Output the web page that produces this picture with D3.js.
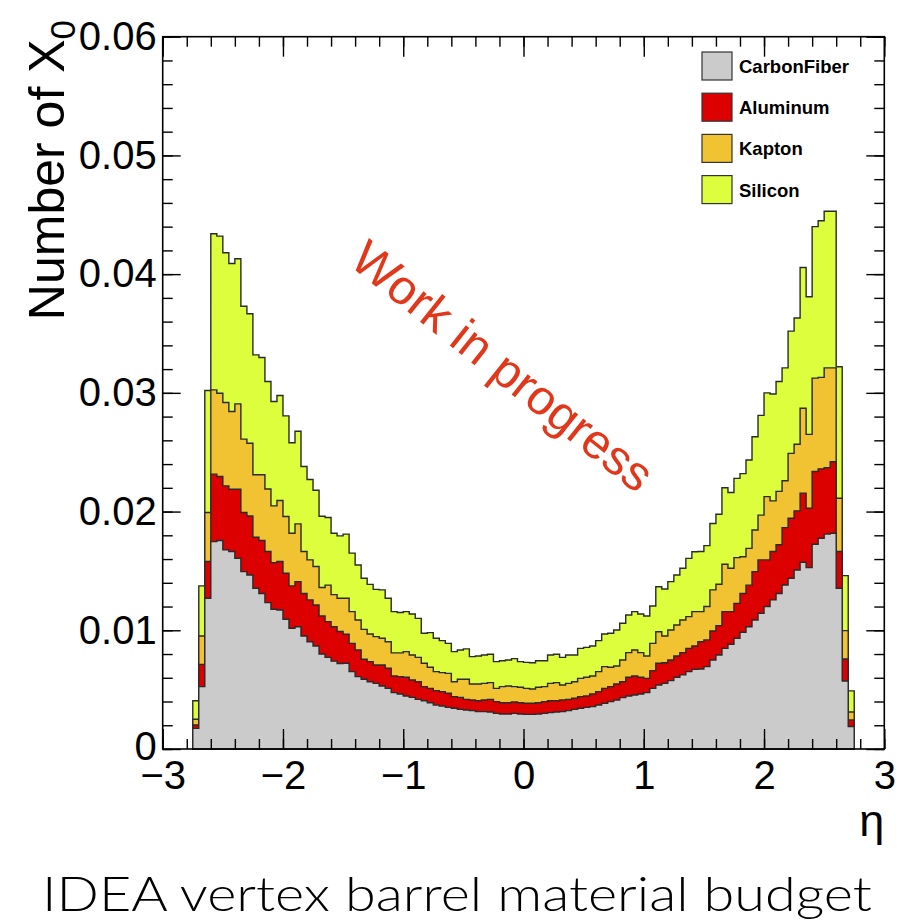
<!DOCTYPE html>
<html>
<head>
<meta charset="utf-8">
<style>
  body { margin: 0; background: #fff; }
  text { font-family: "Liberation Sans", Arial, sans-serif; }
</style>
</head>
<body>
<script src="https://cdn.jsdelivr.net/npm/d3@7"></script>
<script>

// histogram binning: 110 bins of 0.05 from eta = -2.75
var etaMin = -2.75, binWidth = 0.05;

// material contributions per bin (number of X0)
var carbonFiber = [0.00174,0.00525,0.01270,0.01747,0.01756,0.01677,0.01663,0.01607,0.01494,0.01466,
  0.01354,0.01310,0.01233,0.01177,0.01171,0.01093,0.01017,0.01030,0.00952,0.00904,
  0.00868,0.00800,0.00772,0.00740,0.00720,0.00722,0.00652,0.00610,0.00587,0.00567,
  0.00553,0.00531,0.00511,0.00475,0.00463,0.00447,0.00435,0.00418,0.00407,0.00390,
  0.00370,0.00362,0.00351,0.00343,0.00334,0.00329,0.00323,0.00315,0.00315,0.00312,
  0.00300,0.00295,0.00295,0.00300,0.00295,0.00292,0.00292,0.00295,0.00300,0.00306,
  0.00312,0.00315,0.00323,0.00334,0.00343,0.00351,0.00357,0.00371,0.00385,0.00399,
  0.00413,0.00433,0.00447,0.00455,0.00463,0.00475,0.00511,0.00539,0.00553,0.00576,
  0.00604,0.00624,0.00652,0.00671,0.00674,0.00694,0.00750,0.00792,0.00848,0.00882,
  0.00933,0.00983,0.01030,0.01087,0.01143,0.01200,0.01256,0.01310,0.01382,0.01438,
  0.01508,0.01573,0.01528,0.01725,0.01775,0.01810,0.01817,0.01354,0.00573,0.00190];

var aluminum = [0.00028,0.00188,0.00309,0.00568,0.00539,0.00539,0.00525,0.00581,0.00498,0.00497,
  0.00430,0.00446,0.00430,0.00393,0.00408,0.00387,0.00357,0.00380,0.00358,0.00352,
  0.00345,0.00320,0.00301,0.00290,0.00270,0.00244,0.00238,0.00224,0.00169,0.00169,
  0.00155,0.00177,0.00169,0.00140,0.00147,0.00157,0.00146,0.00149,0.00118,0.00121,
  0.00122,0.00121,0.00118,0.00098,0.00101,0.00089,0.00090,0.00092,0.00098,0.00106,
  0.00099,0.00095,0.00095,0.00096,0.00095,0.00093,0.00093,0.00095,0.00099,0.00101,
  0.00095,0.00098,0.00095,0.00093,0.00098,0.00095,0.00106,0.00112,0.00126,0.00126,
  0.00135,0.00134,0.00157,0.00160,0.00141,0.00120,0.00149,0.00183,0.00174,0.00174,
  0.00180,0.00188,0.00196,0.00197,0.00230,0.00225,0.00244,0.00247,0.00309,0.00275,
  0.00294,0.00327,0.00350,0.00407,0.00450,0.00393,0.00407,0.00410,0.00483,0.00506,
  0.00498,0.00582,0.00500,0.00612,0.00585,0.00560,0.00603,0.00309,0.00185,0.00055];

var kapton = [0.00048,0.00239,0.00413,0.00710,0.00702,0.00703,0.00655,0.00719,0.00618,0.00613,
  0.00526,0.00554,0.00527,0.00478,0.00514,0.00478,0.00443,0.00486,0.00353,0.00337,
  0.00324,0.00240,0.00307,0.00270,0.00280,0.00304,0.00267,0.00253,0.00252,0.00233,
  0.00239,0.00225,0.00224,0.00195,0.00200,0.00216,0.00211,0.00205,0.00197,0.00177,
  0.00160,0.00160,0.00168,0.00126,0.00152,0.00169,0.00135,0.00141,0.00140,0.00141,
  0.00112,0.00135,0.00141,0.00129,0.00130,0.00126,0.00121,0.00130,0.00126,0.00146,
  0.00152,0.00126,0.00135,0.00140,0.00154,0.00158,0.00152,0.00169,0.00183,0.00163,
  0.00151,0.00183,0.00208,0.00219,0.00208,0.00189,0.00230,0.00266,0.00225,0.00253,
  0.00261,0.00275,0.00267,0.00289,0.00253,0.00281,0.00346,0.00349,0.00399,0.00365,
  0.00385,0.00310,0.00310,0.00351,0.00377,0.00533,0.00427,0.00450,0.00395,0.00546,
  0.00561,0.00715,0.00622,0.00787,0.00770,0.00840,0.00790,0.00449,0.00239,0.00067];

var silicon = [0.00157,0.00422,0.01028,0.01315,0.01323,0.01261,0.01247,0.01223,0.01120,0.01090,
  0.01010,0.00988,0.00905,0.00879,0.00885,0.00848,0.00763,0.00780,0.00717,0.00677,
  0.00643,0.00600,0.00570,0.00517,0.00525,0.00540,0.00493,0.00463,0.00430,0.00418,
  0.00398,0.00407,0.00366,0.00347,0.00340,0.00337,0.00345,0.00328,0.00253,0.00292,
  0.00281,0.00270,0.00253,0.00253,0.00247,0.00256,0.00230,0.00236,0.00239,0.00239,
  0.00225,0.00219,0.00219,0.00236,0.00216,0.00219,0.00221,0.00224,0.00219,0.00239,
  0.00239,0.00233,0.00239,0.00225,0.00253,0.00252,0.00253,0.00261,0.00275,0.00287,
  0.00304,0.00309,0.00317,0.00323,0.00325,0.00336,0.00315,0.00379,0.00396,0.00407,
  0.00421,0.00435,0.00491,0.00505,0.00506,0.00513,0.00560,0.00590,0.00644,0.00638,
  0.00668,0.00700,0.00745,0.00785,0.00840,0.00874,0.00900,0.00925,0.00950,0.01030,
  0.01063,0.01186,0.01160,0.01276,0.01320,0.01320,0.01320,0.01108,0.00463,0.00178];

var materials = ["CarbonFiber", "Aluminum", "Kapton", "Silicon"];
var materialColors = ["#cbcbcb", "#dc0000", "#f1c232", "#dcfe3c"];
var xTicks = [-3, -2, -1, 0, 1, 2, 3];
var yTicks = [0, 0.01, 0.02, 0.03, 0.04, 0.05, 0.06];
var yTickLabels = ["0", "0.01", "0.02", "0.03", "0.04", "0.05", "0.06"];

var width = 902, height = 924;
var frame = {left: 162.7, right: 884.3, top: 36.7, bottom: 749};

var svg = d3.select("body").append("svg")
    .attr("width", width)
    .attr("height", height)
    .style("background", "#fff");

var x = d3.scaleLinear().domain([-3, 3]).range([frame.left, frame.right]);
var y = d3.scaleLinear().domain([0, 0.06]).range([frame.bottom, frame.top]);

// one row per bin, then stack them
var seriesByName = {CarbonFiber: carbonFiber, Aluminum: aluminum, Kapton: kapton, Silicon: silicon};
var rows = carbonFiber.map(function(d, i) {
  var r = {lo: etaMin + i * binWidth, hi: etaMin + (i + 1) * binWidth};
  materials.forEach(function(m) { r[m] = seriesByName[m][i]; });
  return r;
});
var stacked = d3.stack().keys(materials)(rows);

// step outline of a cumulative histogram, closed down to zero like ROOT does
var line = d3.line().x(function(p) { return x(p[0]); }).y(function(p) { return y(p[1]); });
function stepPoints(layer) {
  var pts = [[layer[0].data.lo, 0]];
  layer.forEach(function(b) {
    pts.push([b.data.lo, b[1]]);
    pts.push([b.data.hi, b[1]]);
  });
  pts.push([layer[layer.length - 1].data.hi, 0]);
  return pts;
}

var gHist = svg.append("g");
gHist.selectAll("path")
    .data(stacked.slice().reverse())
    .join("path")
    .attr("d", function(layer) { return line(stepPoints(layer)) + "Z"; })
    .attr("fill", function(layer) { return materialColors[layer.index]; })
    .attr("stroke", "#2a2a2a")
    .attr("stroke-width", 1.4)
    .attr("stroke-linejoin", "miter");

// axes: ticks inside the frame on all four sides
var fontAxis = 40;
var minorX = d3.range(-3, 3.001, 0.2);
var minorY = d3.range(0, 0.0601, 0.002);

function addAxis(axis, tx, ty) {
  var g = svg.append("g").attr("transform", "translate(" + tx + "," + ty + ")").call(axis);
  g.select(".domain").remove();
  g.selectAll(".tick line").attr("stroke", "#000").attr("stroke-width", 1.4);
  g.selectAll("text").attr("font-size", fontAxis).attr("fill", "#000")
    .style("font-family", "'Liberation Sans', Arial, sans-serif");
  return g;
}

addAxis(d3.axisBottom(x).tickValues(minorX).tickSize(-10).tickFormat(""), 0, frame.bottom);
addAxis(d3.axisBottom(x).tickValues(xTicks).tickSize(-20).tickPadding(12).tickFormat(d3.format("d")), 0, frame.bottom);
addAxis(d3.axisTop(x).tickValues(minorX).tickSize(-10).tickFormat(""), 0, frame.top);
addAxis(d3.axisTop(x).tickValues(xTicks).tickSize(-20).tickFormat(""), 0, frame.top);

addAxis(d3.axisLeft(y).tickValues(minorY).tickSize(-10).tickFormat(""), frame.left, 0);
var yAxisG = addAxis(d3.axisLeft(y).tickValues(yTicks).tickSize(-18).tickPadding(6)
    .tickFormat(function(d, i) { return yTickLabels[i]; }), frame.left, 0);
// the zero label sits a bit higher so it clears the -3 label below it
yAxisG.selectAll("text").filter(function(d) { return d === 0; }).attr("dy", "0.25em");
addAxis(d3.axisRight(y).tickValues(minorY).tickSize(-10).tickFormat(""), frame.right, 0);
addAxis(d3.axisRight(y).tickValues(yTicks).tickSize(-18).tickFormat(""), frame.right, 0);

svg.append("rect")
    .attr("x", frame.left).attr("y", frame.top)
    .attr("width", frame.right - frame.left).attr("height", frame.bottom - frame.top)
    .attr("fill", "none").attr("stroke", "#000").attr("stroke-width", 1.6);

// axis titles
var yTitle = svg.append("text")
    .attr("transform", "translate(64,20) rotate(-90)")
    .attr("text-anchor", "end")
    .attr("font-size", 50)
    .attr("fill", "#000");
yTitle.append("tspan").text("Number of X");
yTitle.append("tspan").attr("font-size", 35).attr("dy", "0.3em").text("0");

svg.append("text")
    .attr("x", frame.right).attr("y", 836)
    .attr("text-anchor", "end")
    .attr("font-size", 45)
    .attr("fill", "#000")
    .text("η");

// legend
var legend = svg.append("g").attr("transform", "translate(702,66)");
var entry = legend.selectAll("g")
    .data(materials)
    .join("g")
    .attr("transform", function(d, i) { return "translate(0," + (i * 41.2) + ")"; });
entry.append("rect")
    .attr("x", 0).attr("y", -14).attr("width", 30).attr("height", 28)
    .attr("fill", function(d, i) { return materialColors[i]; })
    .attr("stroke", "#333").attr("stroke-width", 1.2);
entry.append("text")
    .attr("x", 37).attr("y", 7)
    .attr("font-size", 18.5)
    .attr("font-weight", "bold")
    .attr("fill", "#000")
    .text(function(d) { return d; });

// watermark
svg.append("text")
    .attr("transform", "translate(503,366) rotate(38.5)")
    .attr("text-anchor", "middle")
    .attr("dominant-baseline", "central")
    .attr("font-size", 49)
    .attr("fill", "#e1381b")
    .text("Work in progress");

// caption below the canvas
svg.append("text")
    .attr("x", 457).attr("y", 911)
    .attr("text-anchor", "middle")
    .attr("font-size", 48)
    .attr("font-weight", 300)
    .attr("textLength", 830)
    .attr("lengthAdjust", "spacingAndGlyphs")
    .style("font-family", "Lato, 'Liberation Sans', sans-serif")
    .attr("fill", "#000")
    .text("IDEA vertex barrel material budget");

</script>
</body>
</html>
